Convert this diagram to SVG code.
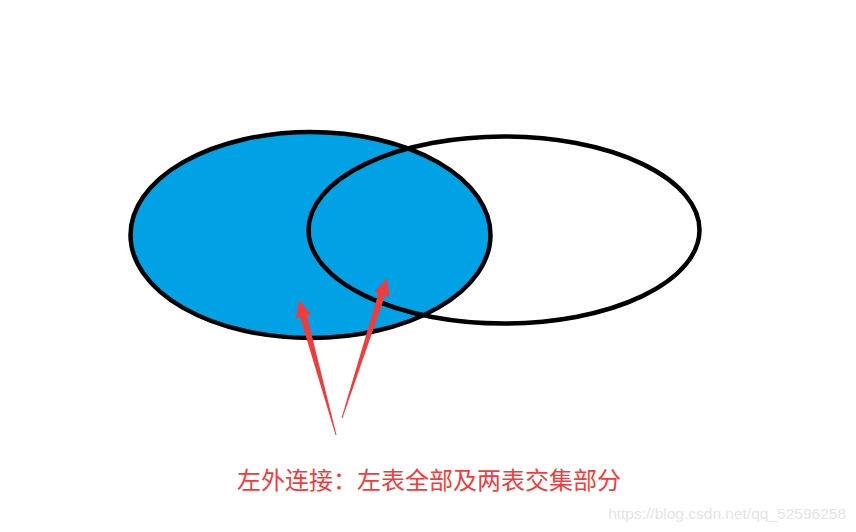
<svg xmlns="http://www.w3.org/2000/svg" width="856" height="532" viewBox="0 0 856 532">
<style>
.ell{stroke:#000;stroke-width:4.5}
.arrow{fill:#f23c3c}
.label{font-family:"Noto Sans CJK SC","Noto Sans",sans-serif;font-size:24px;fill:#f23c3c}
.wm{font-family:"Liberation Sans",Arial,sans-serif;font-size:15.5px;fill:#e4e4e4}
</style>
<rect width="856" height="532" fill="#fff"/>
<g id="left-table">
<ellipse class="ell" cx="310.5" cy="235" rx="180" ry="103" fill="#00a2e6"/>
</g>
<g id="right-table">
<ellipse class="ell" cx="504" cy="230" rx="195.5" ry="93.5" fill="none"/>
</g>
<g id="connectors">
<polygon class="arrow" points="299,300 311.2,314.3 306.9,315.5 336.5,435 335.5,435 300.1,317.3 295.8,318.5"/>
<polygon class="arrow" points="387,278 389.4,296.6 385.1,295.3 342.5,418 341.5,418 378.5,293.1 374.2,291.8"/>
</g>
<g id="caption">
<text class="label" x="429" y="489" text-anchor="middle">左外连接：左表全部及两表交集部分</text>
</g>
<text class="wm" x="846" y="519" text-anchor="end">https://blog.csdn.net/qq_52596258</text>
</svg>
